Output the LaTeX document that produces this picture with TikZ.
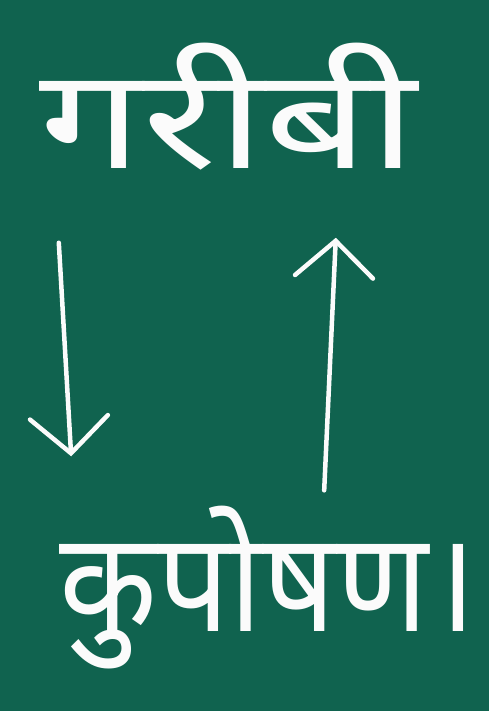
\documentclass[tikz,border=0pt]{standalone}
\usepackage{fontspec}
\newfontfamily\devfont[Script=Devanagari]{Noto Sans}
\usetikzlibrary{arrows.meta,positioning}
\definecolor{cbBoard}{HTML}{10634F}
\definecolor{cbChalk}{HTML}{FBFBFB}
\tikzset{
  wrd/.style={text=cbChalk, inner sep=0pt, font=\devfont\fontsize{140}{140}\selectfont},
  arr/.style={-{Straight Barb[length=36pt,width=78pt,line cap=round]}, line width=4.5pt, draw=cbChalk, line cap=round},
}
\begin{document}
\begin{tikzpicture}[x=1pt,y=-1pt]
  \fill[cbBoard] (0,0) rectangle (489,711);
  \node[wrd] (garibi) at (228,107) {\scalebox{1.31}[1]{गरीबी}};
  \node[wrd] (kuposhan) at (268,588) {\scalebox{0.91}[1]{कुपोषण।}};
  \draw[arr] ([xshift=20pt,yshift=-72pt]garibi.south west) -- ([xshift=12pt,yshift=50pt]kuposhan.north west);
  \draw[arr] ([xshift=265pt,yshift=16pt]kuposhan.north west) -- ([xshift=297pt,yshift=-67pt]garibi.south west);
\end{tikzpicture}
\end{document}
